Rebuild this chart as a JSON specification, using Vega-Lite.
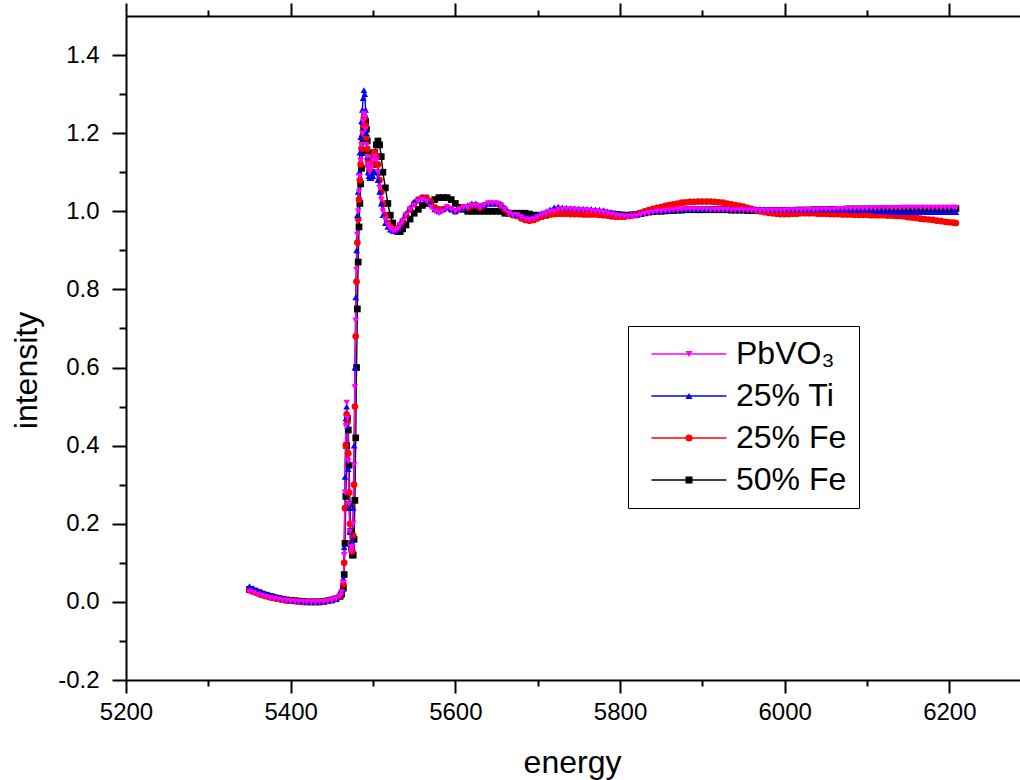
{
"$schema": "https://vega.github.io/schema/vega-lite/v6.json",
"width": 895, "height": 664,
"autosize": "none",
"padding": {"left": 126, "top": 16, "right": 0, "bottom": 100},
"background": "white",
"config": {
  "font": "Liberation Sans",
  "view": {"stroke": null},
  "axis": {"grid": false, "domainColor": "black", "domainWidth": 2, "tickColor": "black", "tickWidth": 2, "labelColor": "black", "titleColor": "black", "labelFont": "Liberation Sans", "titleFont": "Liberation Sans", "labelFontSize": 24, "titleFontSize": 32, "titleFontWeight": "normal", "labelFlush": false}
},
"data": {"values": [
{"e":5350,"p":0.027,"t":0.040,"f":0.030,"k":0.032},
{"e":5355,"p":0.023,"t":0.035,"f":0.026,"k":0.028},
{"e":5360,"p":0.019,"t":0.030,"f":0.022,"k":0.024},
{"e":5365,"p":0.016,"t":0.026,"f":0.018,"k":0.020},
{"e":5370,"p":0.013,"t":0.022,"f":0.015,"k":0.017},
{"e":5375,"p":0.010,"t":0.018,"f":0.012,"k":0.014},
{"e":5380,"p":0.008,"t":0.015,"f":0.010,"k":0.011},
{"e":5385,"p":0.006,"t":0.012,"f":0.008,"k":0.009},
{"e":5390,"p":0.004,"t":0.009,"f":0.006,"k":0.007},
{"e":5395,"p":0.003,"t":0.007,"f":0.004,"k":0.005},
{"e":5400,"p":0.002,"t":0.005,"f":0.003,"k":0.004},
{"e":5405,"p":0.001,"t":0.004,"f":0.002,"k":0.003},
{"e":5410,"p":0.000,"t":0.003,"f":0.001,"k":0.002},
{"e":5415,"p":0.000,"t":0.002,"f":0.000,"k":0.001},
{"e":5420,"p":-0.001,"t":0.001,"f":0.000,"k":0.000},
{"e":5425,"p":-0.001,"t":0.001,"f":0.000,"k":0.000},
{"e":5430,"p":-0.001,"t":0.001,"f":0.000,"k":0.000},
{"e":5435,"p":0.000,"t":0.001,"f":0.000,"k":0.000},
{"e":5440,"p":0.000,"t":0.002,"f":0.001,"k":0.001},
{"e":5445,"p":0.002,"t":0.004,"f":0.003,"k":0.003},
{"e":5450,"p":0.004,"t":0.006,"f":0.005,"k":0.005},
{"e":5455,"p":0.008,"t":0.010,"f":0.009,"k":0.008},
{"e":5460,"p":0.015,"t":0.018,"f":0.016,"k":0.014},
{"e":5462,"p":0.025,"t":0.030,"f":0.025,"k":0.020},
{"e":5464,"p":0.05,"t":0.06,"f":0.045,"k":0.035},
{"e":5465,"p":0.12,"t":0.14,"f":0.10,"k":0.07},
{"e":5466,"p":0.28,"t":0.32,"f":0.24,"k":0.15},
{"e":5467,"p":0.45,"t":0.47,"f":0.40,"k":0.27},
{"e":5468,"p":0.51,"t":0.50,"f":0.48,"k":0.40},
{"e":5469,"p":0.47,"t":0.45,"f":0.46,"k":0.47},
{"e":5470,"p":0.36,"t":0.34,"f":0.38,"k":0.44},
{"e":5471,"p":0.25,"t":0.24,"f":0.28,"k":0.35},
{"e":5472,"p":0.18,"t":0.18,"f":0.20,"k":0.25},
{"e":5473,"p":0.14,"t":0.15,"f":0.15,"k":0.18},
{"e":5474,"p":0.13,"t":0.14,"f":0.13,"k":0.14},
{"e":5475,"p":0.14,"t":0.16,"f":0.13,"k":0.12},
{"e":5476,"p":0.20,"t":0.24,"f":0.17,"k":0.12},
{"e":5477,"p":0.35,"t":0.40,"f":0.30,"k":0.16},
{"e":5478,"p":0.55,"t":0.60,"f":0.50,"k":0.26},
{"e":5479,"p":0.72,"t":0.78,"f":0.68,"k":0.42},
{"e":5480,"p":0.85,"t":0.90,"f":0.82,"k":0.60},
{"e":5481,"p":0.94,"t":0.99,"f":0.92,"k":0.75},
{"e":5482,"p":1.00,"t":1.05,"f":0.98,"k":0.87},
{"e":5483,"p":1.05,"t":1.10,"f":1.03,"k":0.96},
{"e":5484,"p":1.09,"t":1.15,"f":1.08,"k":1.02},
{"e":5485,"p":1.13,"t":1.19,"f":1.12,"k":1.07},
{"e":5486,"p":1.17,"t":1.23,"f":1.16,"k":1.11},
{"e":5487,"p":1.20,"t":1.26,"f":1.19,"k":1.15},
{"e":5488,"p":1.23,"t":1.29,"f":1.22,"k":1.18},
{"e":5489,"p":1.25,"t":1.31,"f":1.24,"k":1.21},
{"e":5490,"p":1.24,"t":1.30,"f":1.24,"k":1.23},
{"e":5491,"p":1.21,"t":1.26,"f":1.22,"k":1.23},
{"e":5492,"p":1.17,"t":1.20,"f":1.19,"k":1.21},
{"e":5493,"p":1.14,"t":1.14,"f":1.16,"k":1.18},
{"e":5494,"p":1.12,"t":1.10,"f":1.13,"k":1.15},
{"e":5495,"p":1.11,"t":1.09,"f":1.12,"k":1.12},
{"e":5496,"p":1.10,"t":1.085,"f":1.11,"k":1.10},
{"e":5498,"p":1.11,"t":1.085,"f":1.12,"k":1.10},
{"e":5500,"p":1.13,"t":1.09,"f":1.14,"k":1.12},
{"e":5502,"p":1.14,"t":1.10,"f":1.15,"k":1.15},
{"e":5504,"p":1.13,"t":1.10,"f":1.14,"k":1.17},
{"e":5506,"p":1.10,"t":1.08,"f":1.12,"k":1.18},
{"e":5508,"p":1.06,"t":1.05,"f":1.08,"k":1.17},
{"e":5510,"p":1.03,"t":1.02,"f":1.05,"k":1.14},
{"e":5512,"p":1.00,"t":0.99,"f":1.02,"k":1.10},
{"e":5515,"p":0.98,"t":0.97,"f":0.99,"k":1.06},
{"e":5518,"p":0.965,"t":0.96,"f":0.97,"k":1.02},
{"e":5521,"p":0.955,"t":0.953,"f":0.96,"k":0.99},
{"e":5524,"p":0.95,"t":0.95,"f":0.955,"k":0.97},
{"e":5527,"p":0.95,"t":0.95,"f":0.95,"k":0.955},
{"e":5530,"p":0.955,"t":0.955,"f":0.955,"k":0.948},
{"e":5533,"p":0.965,"t":0.965,"f":0.965,"k":0.948},
{"e":5536,"p":0.975,"t":0.98,"f":0.975,"k":0.955},
{"e":5540,"p":0.99,"t":0.995,"f":0.99,"k":0.965},
{"e":5545,"p":1.005,"t":1.01,"f":1.005,"k":0.98},
{"e":5550,"p":1.015,"t":1.025,"f":1.02,"k":0.995},
{"e":5555,"p":1.025,"t":1.03,"f":1.03,"k":1.005},
{"e":5560,"p":1.03,"t":1.035,"f":1.035,"k":1.015},
{"e":5565,"p":1.025,"t":1.03,"f":1.035,"k":1.02},
{"e":5570,"p":1.01,"t":1.02,"f":1.025,"k":1.025},
{"e":5575,"p":1.0,"t":1.005,"f":1.01,"k":1.03},
{"e":5580,"p":0.995,"t":1.0,"f":1.005,"k":1.035},
{"e":5585,"p":1.0,"t":1.005,"f":1.005,"k":1.035},
{"e":5590,"p":1.01,"t":1.01,"f":1.01,"k":1.035},
{"e":5595,"p":1.005,"t":1.005,"f":1.005,"k":1.03},
{"e":5600,"p":1.0,"t":1.0,"f":1.0,"k":1.02},
{"e":5605,"p":1.005,"t":1.005,"f":1.005,"k":1.01},
{"e":5610,"p":1.01,"t":1.01,"f":1.01,"k":1.005},
{"e":5615,"p":1.01,"t":1.015,"f":1.01,"k":1.0},
{"e":5620,"p":1.015,"t":1.02,"f":1.015,"k":1.0},
{"e":5625,"p":1.015,"t":1.02,"f":1.015,"k":1.0},
{"e":5630,"p":1.01,"t":1.015,"f":1.01,"k":1.0},
{"e":5635,"p":1.015,"t":1.015,"f":1.015,"k":1.0},
{"e":5640,"p":1.02,"t":1.02,"f":1.02,"k":1.0},
{"e":5645,"p":1.02,"t":1.02,"f":1.02,"k":1.0},
{"e":5650,"p":1.02,"t":1.02,"f":1.02,"k":1.0},
{"e":5655,"p":1.015,"t":1.02,"f":1.015,"k":1.0},
{"e":5660,"p":1.005,"t":1.01,"f":1.005,"k":0.995},
{"e":5665,"p":0.995,"t":1.0,"f":0.995,"k":0.995},
{"e":5670,"p":0.99,"t":0.995,"f":0.99,"k":0.995},
{"e":5675,"p":0.99,"t":0.99,"f":0.988,"k":0.995},
{"e":5680,"p":0.985,"t":0.99,"f":0.982,"k":0.995},
{"e":5685,"p":0.98,"t":0.985,"f":0.978,"k":0.995},
{"e":5690,"p":0.978,"t":0.985,"f":0.976,"k":0.993},
{"e":5695,"p":0.98,"t":0.988,"f":0.978,"k":0.99},
{"e":5700,"p":0.985,"t":0.99,"f":0.982,"k":0.99},
{"e":5705,"p":0.99,"t":0.995,"f":0.986,"k":0.99},
{"e":5710,"p":0.995,"t":1.0,"f":0.99,"k":0.99},
{"e":5715,"p":1.0,"t":1.005,"f":0.992,"k":0.995},
{"e":5720,"p":1.0,"t":1.01,"f":0.993,"k":1.0},
{"e":5725,"p":1.005,"t":1.012,"f":0.994,"k":1.0},
{"e":5730,"p":1.005,"t":1.010,"f":0.994,"k":1.000},
{"e":5735,"p":1.005,"t":1.009,"f":0.994,"k":1.000},
{"e":5740,"p":1.005,"t":1.008,"f":0.993,"k":1.000},
{"e":5745,"p":1.004,"t":1.008,"f":0.993,"k":1.000},
{"e":5750,"p":1.003,"t":1.007,"f":0.993,"k":1.000},
{"e":5755,"p":1.003,"t":1.007,"f":0.992,"k":1.000},
{"e":5760,"p":1.002,"t":1.006,"f":0.992,"k":1.000},
{"e":5765,"p":1.001,"t":1.006,"f":0.992,"k":0.999},
{"e":5770,"p":1.000,"t":1.005,"f":0.992,"k":0.998},
{"e":5775,"p":0.999,"t":1.004,"f":0.991,"k":0.997},
{"e":5780,"p":0.997,"t":1.003,"f":0.990,"k":0.996},
{"e":5785,"p":0.995,"t":1.000,"f":0.989,"k":0.995},
{"e":5790,"p":0.992,"t":0.998,"f":0.987,"k":0.993},
{"e":5795,"p":0.990,"t":0.996,"f":0.986,"k":0.992},
{"e":5800,"p":0.988,"t":0.994,"f":0.986,"k":0.991},
{"e":5805,"p":0.987,"t":0.993,"f":0.986,"k":0.990},
{"e":5810,"p":0.986,"t":0.992,"f":0.988,"k":0.990},
{"e":5815,"p":0.986,"t":0.992,"f":0.990,"k":0.991},
{"e":5820,"p":0.987,"t":0.993,"f":0.993,"k":0.992},
{"e":5825,"p":0.990,"t":0.995,"f":0.996,"k":0.994},
{"e":5830,"p":0.993,"t":0.998,"f":1.000,"k":0.996},
{"e":5835,"p":0.995,"t":1.000,"f":1.003,"k":0.998},
{"e":5840,"p":0.997,"t":1.001,"f":1.006,"k":0.999},
{"e":5845,"p":0.999,"t":1.002,"f":1.009,"k":1.000},
{"e":5850,"p":1.000,"t":1.003,"f":1.011,"k":1.000},
{"e":5855,"p":1.001,"t":1.003,"f":1.014,"k":1.001},
{"e":5860,"p":1.002,"t":1.004,"f":1.016,"k":1.002},
{"e":5865,"p":1.003,"t":1.004,"f":1.018,"k":1.002},
{"e":5870,"p":1.004,"t":1.005,"f":1.020,"k":1.003},
{"e":5875,"p":1.004,"t":1.005,"f":1.022,"k":1.003},
{"e":5880,"p":1.005,"t":1.006,"f":1.023,"k":1.004},
{"e":5885,"p":1.005,"t":1.006,"f":1.024,"k":1.004},
{"e":5890,"p":1.005,"t":1.006,"f":1.024,"k":1.004},
{"e":5895,"p":1.005,"t":1.006,"f":1.025,"k":1.004},
{"e":5900,"p":1.005,"t":1.006,"f":1.025,"k":1.004},
{"e":5905,"p":1.005,"t":1.006,"f":1.025,"k":1.004},
{"e":5910,"p":1.004,"t":1.006,"f":1.025,"k":1.004},
{"e":5915,"p":1.004,"t":1.006,"f":1.024,"k":1.004},
{"e":5920,"p":1.004,"t":1.006,"f":1.023,"k":1.004},
{"e":5925,"p":1.004,"t":1.006,"f":1.022,"k":1.004},
{"e":5930,"p":1.004,"t":1.006,"f":1.020,"k":1.004},
{"e":5935,"p":1.003,"t":1.006,"f":1.018,"k":1.003},
{"e":5940,"p":1.003,"t":1.006,"f":1.016,"k":1.003},
{"e":5945,"p":1.003,"t":1.006,"f":1.014,"k":1.003},
{"e":5950,"p":1.003,"t":1.006,"f":1.012,"k":1.003},
{"e":5955,"p":1.002,"t":1.006,"f":1.009,"k":1.002},
{"e":5960,"p":1.002,"t":1.006,"f":1.006,"k":1.002},
{"e":5965,"p":1.002,"t":1.006,"f":1.003,"k":1.002},
{"e":5970,"p":1.002,"t":1.006,"f":1.000,"k":1.002},
{"e":5975,"p":1.002,"t":1.005,"f":0.998,"k":1.002},
{"e":5980,"p":1.002,"t":1.005,"f":0.996,"k":1.002},
{"e":5985,"p":1.002,"t":1.005,"f":0.995,"k":1.002},
{"e":5990,"p":1.002,"t":1.005,"f":0.994,"k":1.002},
{"e":5995,"p":1.002,"t":1.005,"f":0.993,"k":1.002},
{"e":6000,"p":1.002,"t":1.005,"f":0.993,"k":1.002},
{"e":6005,"p":1.003,"t":1.005,"f":0.993,"k":1.002},
{"e":6010,"p":1.003,"t":1.005,"f":0.994,"k":1.002},
{"e":6015,"p":1.003,"t":1.005,"f":0.994,"k":1.003},
{"e":6020,"p":1.003,"t":1.005,"f":0.995,"k":1.003},
{"e":6025,"p":1.004,"t":1.005,"f":0.995,"k":1.003},
{"e":6030,"p":1.004,"t":1.005,"f":0.995,"k":1.003},
{"e":6035,"p":1.004,"t":1.005,"f":0.995,"k":1.004},
{"e":6040,"p":1.004,"t":1.005,"f":0.994,"k":1.004},
{"e":6045,"p":1.005,"t":1.005,"f":0.994,"k":1.004},
{"e":6050,"p":1.005,"t":1.005,"f":0.994,"k":1.004},
{"e":6055,"p":1.005,"t":1.005,"f":0.993,"k":1.005},
{"e":6060,"p":1.005,"t":1.005,"f":0.993,"k":1.005},
{"e":6065,"p":1.006,"t":1.005,"f":0.993,"k":1.005},
{"e":6070,"p":1.006,"t":1.005,"f":0.992,"k":1.005},
{"e":6075,"p":1.006,"t":1.005,"f":0.992,"k":1.006},
{"e":6080,"p":1.006,"t":1.004,"f":0.992,"k":1.006},
{"e":6085,"p":1.007,"t":1.004,"f":0.991,"k":1.006},
{"e":6090,"p":1.007,"t":1.004,"f":0.991,"k":1.006},
{"e":6095,"p":1.007,"t":1.004,"f":0.991,"k":1.006},
{"e":6100,"p":1.007,"t":1.004,"f":0.991,"k":1.006},
{"e":6105,"p":1.008,"t":1.003,"f":0.990,"k":1.006},
{"e":6110,"p":1.008,"t":1.002,"f":0.990,"k":1.006},
{"e":6115,"p":1.008,"t":1.001,"f":0.990,"k":1.007},
{"e":6120,"p":1.008,"t":1.000,"f":0.990,"k":1.007},
{"e":6125,"p":1.008,"t":0.999,"f":0.989,"k":1.007},
{"e":6130,"p":1.008,"t":0.999,"f":0.989,"k":1.007},
{"e":6135,"p":1.008,"t":0.998,"f":0.988,"k":1.007},
{"e":6140,"p":1.008,"t":0.998,"f":0.988,"k":1.007},
{"e":6145,"p":1.009,"t":0.998,"f":0.987,"k":1.007},
{"e":6150,"p":1.009,"t":0.998,"f":0.985,"k":1.007},
{"e":6155,"p":1.009,"t":0.998,"f":0.984,"k":1.007},
{"e":6160,"p":1.009,"t":0.998,"f":0.983,"k":1.007},
{"e":6165,"p":1.009,"t":0.998,"f":0.981,"k":1.007},
{"e":6170,"p":1.009,"t":0.998,"f":0.980,"k":1.007},
{"e":6175,"p":1.009,"t":0.998,"f":0.979,"k":1.007},
{"e":6180,"p":1.009,"t":0.998,"f":0.978,"k":1.007},
{"e":6185,"p":1.009,"t":0.998,"f":0.976,"k":1.007},
{"e":6190,"p":1.009,"t":0.998,"f":0.975,"k":1.007},
{"e":6195,"p":1.009,"t":0.998,"f":0.973,"k":1.007},
{"e":6200,"p":1.009,"t":0.998,"f":0.972,"k":1.007},
{"e":6205,"p":1.009,"t":0.998,"f":0.971,"k":1.007},
{"e":6208,"p":1.009,"t":0.998,"f":0.970,"k":1.007}
]},
"transform": [{"fold": ["k", "f", "t", "p"], "as": ["series", "v"]}],
"encoding": {
  "x": {"field": "e", "type": "quantitative", "scale": {"domain": [5200, 6287], "nice": false, "zero": false},
        "axis": {"orient": "bottom", "title": "energy", "values": [5200,5300,5400,5500,5600,5700,5800,5900,6000,6100,6200], "format": "d",
                 "labelExpr": "datum.value % 200 == 0 ? datum.label : ''",
                 "tickSize": {"condition": {"test": "datum.value % 200 == 0", "value": 13}, "value": 6},
                 "labelPadding": 7, "titleX": 446, "titleY": 92, "titleBaseline": "alphabetic", "titleAnchor": "middle"}},
  "y": {"field": "v", "type": "quantitative", "scale": {"domain": [-0.2, 1.5], "nice": false, "zero": false},
        "axis": {"orient": "left", "title": "intensity", "values": [-0.2,-0.1,0,0.1,0.2,0.3,0.4,0.5,0.6,0.7,0.8,0.9,1.0,1.1,1.2,1.3,1.4], "format": ".1f",
                 "labelExpr": "round(datum.value*10) % 2 == 0 ? replace(datum.label, '\u2212', '-') : ''",
                 "tickSize": {"condition": {"test": "round(datum.value*10) % 2 == 0", "value": 14}, "value": 7},
                 "labelPadding": 13, "titleX": -90, "titleY": 354, "titleBaseline": "alphabetic", "titleAnchor": "middle"}}
},
"layer": [
  {"mark": {"type": "line", "strokeWidth": 1.4},
   "encoding": {"stroke": {"field": "series", "type": "nominal", "sort": ["p", "t", "f", "k"],
      "scale": {"range": ["#ff00ff", "#0000ff", "#ff0000", "#000000"]},
      "legend": {"orient": "none", "legendX": 502, "legendY": 310, "title": null, "symbolType": "M-15,0H15", "symbolSize": 25, "symbolStrokeWidth": 1.3,
                 "labelFontSize": 32, "labelFont": "Liberation Sans", "labelColor": "black", "labelOffset": 31, "rowPadding": 10, "padding": 12,
                 "strokeColor": "black", "symbolOffset": 33,
                 "labelExpr": "datum.value == 'p' ? 'PbVO₃' : datum.value == 't' ? '25% Ti' : datum.value == 'f' ? '25% Fe' : '50% Fe'"}}}},
  {"encoding": {
     "x": {"field": "e", "type": "quantitative", "scale": {"domain": [5200, 6287], "nice": false, "zero": false},
           "axis": {"orient": "top", "title": null, "values": [5200,5300,5400,5500,5600,5700,5800,5900,6000,6100,6200], "labels": false,
                    "tickSize": {"condition": {"test": "datum.value % 200 == 0", "value": 13}, "value": 6}}},
     "y": {"field": "v", "type": "quantitative", "scale": {"domain": [-0.2, 1.5], "nice": false, "zero": false}, "axis": null},
     "color": {"field": "series", "type": "nominal",
       "scale": {"domain": ["p", "t", "f", "k"], "range": ["#ff00ff", "#0000ff", "#ff0000", "#000000"]},
       "legend": {"orient": "none", "legendX": 502, "legendY": 310, "title": null, "symbolSize": 50,
                  "labelFontSize": 32, "labelFont": "Liberation Sans", "labelOpacity": 0, "labelOffset": 31, "rowPadding": 10, "padding": 12,
                  "symbolOffset": 33, "symbolStrokeWidth": 0,
                  "labelExpr": "datum.value == 'p' ? 'PbVO₃' : datum.value == 't' ? '25% Ti' : datum.value == 'f' ? '25% Fe' : '50% Fe'"}},
     "shape": {"field": "series", "type": "nominal",
       "scale": {"domain": ["p", "t", "f", "k"], "range": ["triangle-down", "triangle-up", "circle", "square"]},
       "legend": {"orient": "none", "legendX": 502, "legendY": 310, "title": null, "symbolSize": 50,
                  "labelFontSize": 32, "labelFont": "Liberation Sans", "labelOpacity": 0, "labelOffset": 31, "rowPadding": 10, "padding": 12,
                  "symbolOffset": 33, "symbolStrokeWidth": 0,
                  "labelExpr": "datum.value == 'p' ? 'PbVO₃' : datum.value == 't' ? '25% Ti' : datum.value == 'f' ? '25% Fe' : '50% Fe'"}}
   },
   "layer": [
     {"transform": [{"filter": "datum.series == 'k'"}], "mark": {"type": "point", "filled": true, "size": 45, "opacity": 1}},
     {"transform": [{"filter": "datum.series == 'f'"}], "mark": {"type": "point", "filled": true, "size": 45, "opacity": 1}},
     {"transform": [{"filter": "datum.series == 't'"}], "mark": {"type": "point", "filled": true, "size": 45, "opacity": 1}},
     {"transform": [{"filter": "datum.series == 'p'"}], "mark": {"type": "point", "filled": true, "size": 45, "opacity": 1}}
   ]}
],
"resolve": {"axis": {"x": "independent", "y": "independent"}}
}
